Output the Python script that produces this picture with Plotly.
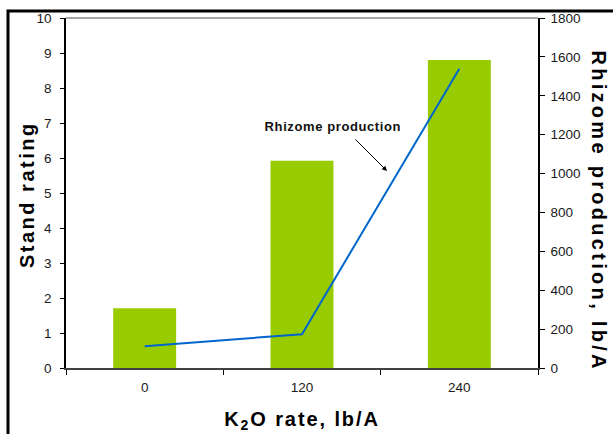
import plotly.graph_objects as go

categories = ["0", "120", "240"]
stand_rating = [1.71, 5.92, 8.80]
rhizome = [112, 174, 1539]
left_ticks = list(range(0, 11))
right_ticks = list(range(0, 1801, 200))

W, H = 613, 434
L, R, T, B = 66, 75, 18, 66
pw, ph = W - L - R, H - T - B

def px(x):
    return (x - L) / pw

def py(y):
    return (H - B - y) / ph

FONT = "Liberation Sans, Arial, sans-serif"
TICKC = "#1a1a1a"
TS = 13.5
TTS = 20

fig = go.Figure()
fig.add_trace(go.Bar(x=categories, y=stand_rating, marker_color="#99CC00",
                     marker_line_width=0, yaxis="y", xaxis="x", showlegend=False))
fig.add_trace(go.Scatter(x=categories, y=rhizome, mode="lines",
                         line=dict(color="#0066CC", width=2), yaxis="y2", xaxis="x",
                         showlegend=False))

fig.update_layout(
    width=W, height=H,
    margin=dict(l=L, r=R, t=T, b=B, autoexpand=False),
    paper_bgcolor="white", plot_bgcolor="white",
    bargap=0.6,
    font=dict(family=FONT, size=TS, color=TICKC),
    xaxis=dict(type="category", categoryarray=categories, tickson="boundaries",
               ticks="outside", ticklen=5, tickcolor="#000", tickwidth=1,
               showline=True, linecolor="#404040", linewidth=2,
               showgrid=False, zeroline=False, range=[-0.5, 2.5],
               tickfont=dict(size=TS, color=TICKC), ticklabelstandoff=6,
               title=dict(text="<b>K<sub>2</sub>O rate, lb/A</b>",
                          font=dict(size=TTS, color="#000"), standoff=18),
               automargin=False),
    xaxis2=dict(overlaying="x", anchor="y", side="bottom", range=[-0.5, 2.5],
                tickmode="array", tickvals=[-0.5, 0.5, 1.5, 2.5],
                ticks="inside", ticklen=5, tickcolor="#000", tickwidth=1,
                showticklabels=False, showline=False, showgrid=False, zeroline=False),
    yaxis=dict(range=[0, 10], tickmode="array", tickvals=left_ticks,
               ticks="outside", ticklen=4, tickcolor="#000",
               showline=True, linecolor="#000", linewidth=1.5,
               showgrid=False, zeroline=False, ticklabelstandoff=6,
               tickfont=dict(size=TS, color=TICKC), automargin=False),
    yaxis2=dict(range=[0, 1800], tickmode="array", tickvals=right_ticks,
                overlaying="y", side="right", anchor="x",
                ticks="outside", ticklen=5, tickcolor="#000",
                showline=True, linecolor="#000", linewidth=1.5,
                showgrid=False, zeroline=False, ticklabelstandoff=3,
                tickfont=dict(size=TS, color=TICKC), automargin=False),
    yaxis3=dict(range=[0, 10], tickmode="array", tickvals=left_ticks,
                overlaying="y", side="left", anchor="x",
                ticks="inside", ticklen=4, tickcolor="#000",
                showticklabels=False, showline=False, showgrid=False, zeroline=False),
    yaxis4=dict(range=[0, 1800], tickmode="array", tickvals=right_ticks,
                overlaying="y", side="right", anchor="x",
                ticks="inside", ticklen=5, tickcolor="#000",
                showticklabels=False, showline=False, showgrid=False, zeroline=False),
)

fig.add_shape(type="line", xref="paper", yref="paper", x0=0, x1=1, y0=1, y1=1,
              line=dict(color="#A6A6A6", width=2))
fig.add_shape(type="rect", xref="paper", yref="paper",
              x0=px(8), x1=px(616), y0=py(437), y1=py(11),
              line=dict(color="#000", width=3), fillcolor="rgba(0,0,0,0)")

fig.add_annotation(text="<b>Stand rating</b>", xref="paper", yref="paper",
                   x=px(27), y=py(195), showarrow=False, textangle=-90,
                   font=dict(size=TTS, color="#000"), xanchor="center", yanchor="middle")
fig.add_annotation(text="<b>Rhizome production, lb/A</b>", xref="paper", yref="paper",
                   x=px(599), y=py(211), showarrow=False, textangle=90,
                   font=dict(size=TTS, color="#000"), xanchor="center", yanchor="middle")
fig.add_annotation(text="<b>Rhizome production</b>", xref="paper", yref="paper",
                   x=px(333), y=py(126), showarrow=False,
                   font=dict(size=13, color="#111"), xanchor="center", yanchor="middle")
fig.add_annotation(text="", xref="paper", yref="paper", x=px(387), y=py(171),
                   ax=-33, ay=-33, axref="pixel", ayref="pixel",
                   showarrow=True, arrowhead=2, arrowsize=1, arrowwidth=1,
                   arrowcolor="#000")

post = """
document.body.style.margin='0';document.body.style.overflow='hidden';
var gd = document.getElementById('{plot_id}');
var sp = {'Stand rating': '2.5px', 'Rhizome production, lb/A': '3.3px',
          'Rhizome production': '0.6px'};
gd.querySelectorAll('text').forEach(function(t){
  var s = t.textContent;
  if (sp[s]) { t.style.letterSpacing = sp[s]; }
  if (s.indexOf('O rate') >= 0) { t.style.letterSpacing = '1.9px'; }
});
"""

fig.write_html("out.html", config={"displayModeBar": False}, post_script=post)
